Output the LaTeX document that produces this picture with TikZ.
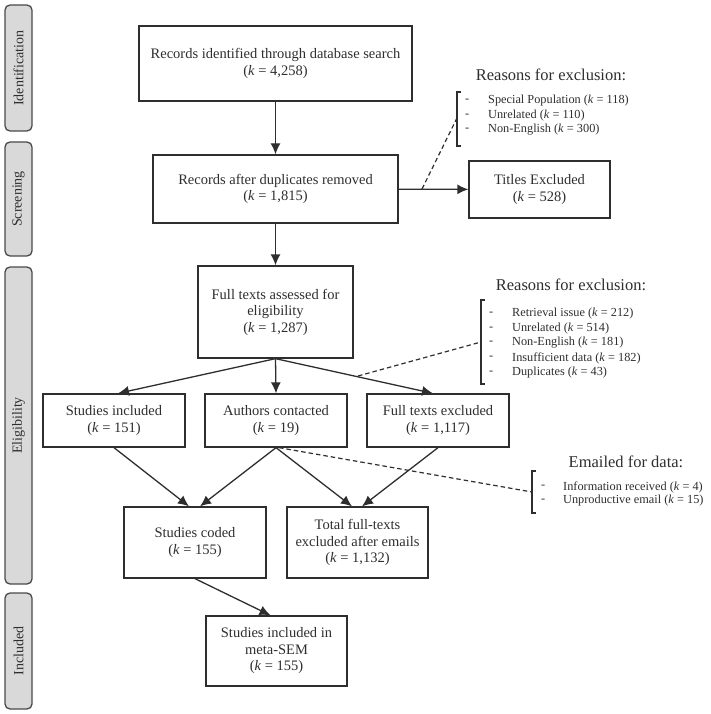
\documentclass[tikz,border=0pt]{standalone}
\usepackage{fontspec}
\setmainfont{Liberation Serif}
\usetikzlibrary{arrows.meta,calc}
\definecolor{ink}{HTML}{2E2E2E}
\definecolor{barfill}{HTML}{D9D9D9}
\definecolor{bardraw}{HTML}{4A4A4A}
\tikzset{
  box/.style={draw=ink, line width=1.3pt, fill=white, align=center, text=ink,
    font=\fontsize{14.5}{16.5}\selectfont, inner sep=2pt},
  sidebar/.style={draw=bardraw, line width=1.3pt, fill=barfill, rounded corners=5pt,
    minimum width=27pt, text=ink},
  sidelabel/.style={rotate=90, font=\fontsize{14}{16}\selectfont, text=ink},
  conn/.style={draw=ink, line width=1.3pt, -{Latex[length=11pt,width=10pt]}},
  dashconn/.style={draw=ink, line width=1.2pt, dash pattern=on 4.5pt off 3pt},
  brack/.style={draw=ink, line width=1.2pt},
  rtitle/.style={font=\fontsize{16.5}{18}\selectfont, text=ink},
  litem/.style={anchor=west, font=\fontsize{12.3}{14}\selectfont, text=ink, inner sep=0pt},
}
\newcommand{\kk}{\textit{k}}
\begin{document}
\begin{tikzpicture}[x=1pt,y=-1pt]
\useasboundingbox (0,0) rectangle (710,714);
% side bars
\node[sidebar, minimum height=126pt] (bid) at (18.5,68) {};
\node[sidelabel] (lid) at (bid.center) {Identification};
\node[sidebar, minimum height=114pt] (bsc) at (18.5,199) {};
\node[sidelabel] (lsc) at (bsc.center) {Screening};
\node[sidebar, minimum height=317pt] (bel) at (18.5,425.5) {};
\node[sidelabel] (lel) at (bel.center) {Eligibility};
\node[sidebar, minimum height=116pt] (bin) at (18.5,651) {};
\node[sidelabel] (lin) at (bin.center) {Included};
% boxes
\node[box, minimum width=273pt, minimum height=75pt] (rid) at (275.5,63.5) {Records identified through database search\\(\kk{} = 4,258)};
\node[box, minimum width=245pt, minimum height=68pt] (rdup) at (275.5,189) {Records after duplicates removed\\(\kk{} = 1,815)};
\node[box, minimum width=141pt, minimum height=57pt] (titles) at (539.5,189.5) {Titles Excluded\\(\kk{} = 528)};
\node[box, minimum width=155pt, minimum height=92pt] (fta) at (275.5,312) {Full texts assessed for\\eligibility\\(\kk{} = 1,287)};
\node[box, minimum width=142pt, minimum height=53pt] (sinc) at (114,420.5) {Studies included\\(\kk{} = 151)};
\node[box, minimum width=142pt, minimum height=53pt] (auth) at (276,420.5) {Authors contacted\\(\kk{} = 19)};
\node[box, minimum width=142pt, minimum height=53pt] (fte) at (438,420.5) {Full texts excluded\\(\kk{} = 1,117)};
\node[box, minimum width=142pt, minimum height=71pt] (coded) at (195,542.5) {Studies coded\\(\kk{} = 155)};
\node[box, minimum width=141pt, minimum height=71pt] (total) at (357.5,542.5) {Total full-texts\\excluded after emails\\(\kk{} = 1,132)};
\node[box, minimum width=141pt, minimum height=70pt] (sem) at (276.5,651) {Studies included in\\meta-SEM\\(\kk{} = 155)};
% connectors
\draw[conn] (rid) -- (rdup);
\draw[conn] (rdup) -- (titles);
\draw[conn] (rdup) -- (fta);
\draw[conn] (fta.south) -- ($(sinc.north)+(4,0)$);
\draw[conn] (fta.south) -- (auth.north);
\draw[conn] (fta.south) -- ($(fte.north)+(-5,0)$);
\draw[conn] (sinc.south) -- ($(coded.north)+(-6,0)$);
\draw[conn] (auth.south) -- ($(coded.north)+(5,0)$);
\draw[conn] (auth.south) -- ($(total.north)+(-5.5,0)$);
\draw[conn] (fte.south) -- ($(total.north)+(4.5,0)$);
\draw[conn] (coded.south) -- ($(sem.north)+(-6,0)$);
% reasons 1
\node[rtitle] (r1t) at (551,75) {Reasons for exclusion:};
\coordinate (b1m) at (457,118);
\draw[brack] (461,92) -- (457,92) -- (457,146) -- (461,146);
\coordinate (d1) at (422,189);
\draw[dashconn] (d1) -- (b1m);
\node[litem] (r1a) at (465,101) {-};
\node[litem] (r1b) at (465,116) {-};
\node[litem] (r1c) at (465,130) {-};
\node[litem] (r1at) at (488,101) {Special Population (\kk{} = 118)};
\node[litem] (r1bt) at (488,116) {Unrelated (\kk{} = 110)};
\node[litem] (r1ct) at (488,130) {Non-English (\kk{} = 300)};
% reasons 2
\node[rtitle] (r2t) at (571,285) {Reasons for exclusion:};
\coordinate (b2m) at (481,342);
\draw[brack] (485,300) -- (481,300) -- (481,384) -- (485,384);
\coordinate (d2) at (358,376);
\draw[dashconn] (d2) -- (b2m);
\node[litem] (r2a) at (489,314) {-};
\node[litem] (r2b) at (489,329) {-};
\node[litem] (r2c) at (489,343) {-};
\node[litem] (r2d) at (489,358) {-};
\node[litem] (r2e) at (489,373) {-};
\node[litem] (r2at) at (512,314) {Retrieval issue (\kk{} = 212)};
\node[litem] (r2bt) at (512,329) {Unrelated (\kk{} = 514)};
\node[litem] (r2ct) at (512,343) {Non-English (\kk{} = 181)};
\node[litem] (r2dt) at (512,358) {Insufficient data (\kk{} = 182)};
\node[litem] (r2et) at (512,373) {Duplicates (\kk{} = 43)};
% emailed
\node[rtitle] (r3t) at (626,462) {Emailed for data:};
\coordinate (b3m) at (532,492);
\draw[brack] (536,471) -- (532,471) -- (532,513) -- (536,513);
\draw[dashconn] ($(auth.south)+(3,0)$) -- (b3m);
\node[litem] (r3a) at (541,487) {-};
\node[litem] (r3b) at (541,501) {-};
\node[litem] (r3at) at (563,487) {Information received (\kk{} = 4)};
\node[litem] (r3bt) at (563,501) {Unproductive email (\kk{} = 15)};
\end{tikzpicture}
\end{document}
